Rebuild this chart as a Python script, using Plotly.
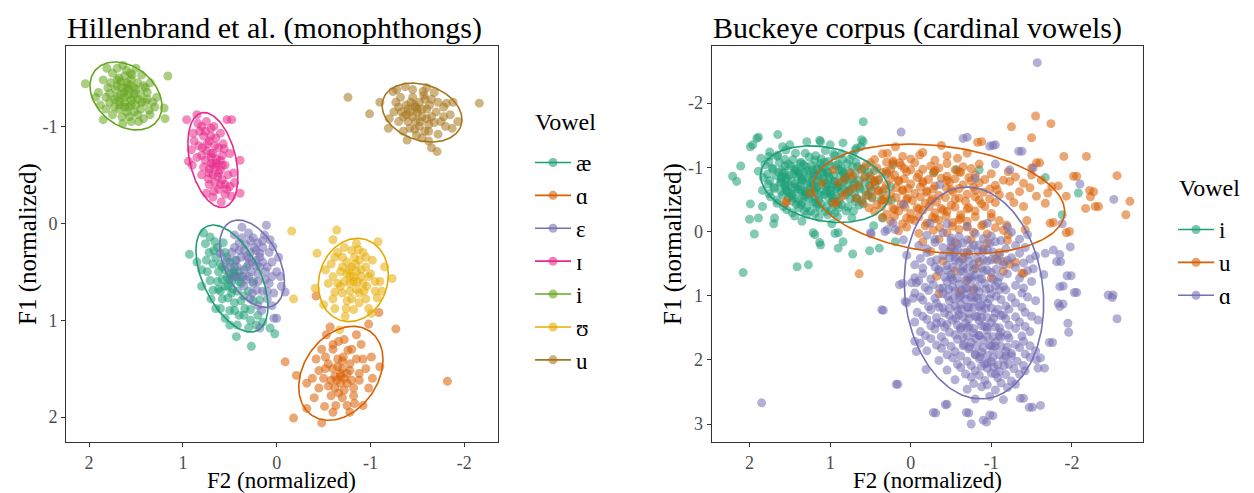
import numpy as np
import plotly.graph_objects as go

# ------------------------------------------------------------------
# Hillenbrand et al. monophthongs: (F2 normalized, F1 normalized)
# ------------------------------------------------------------------
hil_vowels = ["æ", "ɑ", "ɛ", "ɪ", "i", "ʊ", "u"]
hil_colors = ["#1B9E77", "#D95F02", "#7570B3", "#E7298A", "#66A61E", "#E6AB02", "#A6761D"]

hil_ae = [(0.93,0.32),(0.78,0.10),(0.76,0.21),(0.80,0.48),(0.68,0.69),(0.60,0.88),(0.43,1.17),(0.27,1.27),
          (0.30,1.08),(0.07,1.08),(0.02,1.14),(0.55,0.98),(0.71,0.59),(0.46,0.52),(0.43,0.55),(0.18,0.79),
          (0.34,0.88),(0.52,0.77),(0.71,0.14),(0.66,0.19),(0.28,0.89),(0.72,0.30),(0.65,0.35),(0.60,0.42),
          (0.55,0.48),(0.50,0.40),(0.45,0.45),(0.40,0.50),(0.48,0.60),(0.52,0.65),(0.58,0.58),(0.62,0.50),
          (0.68,0.42),(0.42,0.70),(0.38,0.62),(0.35,0.75),(0.45,0.82),(0.40,0.95),(0.30,0.70),(0.25,0.60),
          (0.55,0.30),(0.63,0.25),(0.75,0.38),(0.85,0.40),(0.50,0.90),(0.58,0.78),(0.47,0.68),(0.36,0.55),
          (0.32,0.45),(0.70,0.78),(0.62,0.68),(0.20,0.95),(0.15,1.02),(0.42,1.05),(0.50,0.52),(0.44,0.38),
          (0.53,0.56),(0.57,0.20),(0.80,0.65),(0.25,0.80),
          (0.50,0.58),(0.46,0.50),(0.55,0.65),(0.48,0.72),(0.58,0.45),(0.63,0.60),(0.40,0.60),(0.45,0.90),
          (0.35,0.95),(0.28,1.00),(0.53,0.35),(0.67,0.28),(0.74,0.50),(0.38,0.80),(0.60,0.70),(0.65,0.88),
          (0.22,1.05),(0.50,1.05)]
hil_a = [(-0.09,1.43),(-0.21,1.57),(-0.18,2.01),(-0.48,2.06),(-0.42,0.75),(-1.27,1.09),(-1.09,0.92),(-0.98,1.04),
         (-1.01,1.38),(-1.10,1.48),(-0.57,1.07),(-0.53,1.15),(-0.32,1.65),(-0.32,1.91),(-0.51,1.89),(-0.92,1.88),
         (-0.83,1.86),(-0.71,1.38),(-0.76,1.31),(-0.64,1.62),(-0.80,1.62),(-1.82,1.63),(-0.60,1.30),(-0.65,1.40),
         (-0.70,1.50),(-0.75,1.55),(-0.68,1.58),(-0.60,1.50),(-0.55,1.45),(-0.62,1.70),(-0.72,1.72),(-0.78,1.45),
         (-0.85,1.40),(-0.88,1.55),(-0.82,1.70),(-0.70,1.80),(-0.58,1.78),(-0.50,1.60),(-0.45,1.52),(-0.42,1.40),
         (-0.48,1.30),(-0.66,1.22),(-0.72,1.20),(-0.90,1.25),(-0.95,1.50),(-0.98,1.70),(-0.60,1.95),(-0.40,1.80),
         (-0.38,1.60),(-0.85,1.15),(-0.63,1.88),(-0.55,1.68),(-0.78,1.95),(-0.52,1.38),(-0.68,1.65),
         (-0.68,1.55),(-0.72,1.60),(-0.65,1.48),(-0.75,1.65),(-0.62,1.58),(-0.78,1.52),(-0.70,1.42),(-0.58,1.62),
         (-0.88,1.62),(-0.66,1.75),(-0.52,1.50),(-0.82,1.78),(-0.92,1.40),(-0.45,1.70),(-0.75,1.88),(-1.02,1.60),
         (-0.60,1.25),(-0.80,1.30)]
hil_eh = [(0.11,0.02),(0.37,0.04),(-0.09,0.71),(0.00,0.98),(0.03,0.98),(0.18,1.08),(0.60,0.31),(0.53,0.38),
          (0.07,0.17),(0.04,0.24),(-0.04,0.55),(0.39,0.55),(0.21,0.69),(0.32,0.34),(0.43,0.38),(0.18,0.31),
          (0.30,0.10),(0.25,0.15),(0.20,0.20),(0.15,0.25),(0.40,0.20),(0.45,0.25),(0.35,0.28),(0.28,0.30),
          (0.22,0.38),(0.15,0.40),(0.10,0.45),(0.05,0.40),(0.30,0.42),(0.35,0.48),(0.27,0.50),(0.20,0.52),
          (0.12,0.58),(0.08,0.62),(0.25,0.62),(0.32,0.58),(0.15,0.70),(0.10,0.78),(0.05,0.85),(0.00,0.50),
          (0.38,0.35),(0.48,0.30),(0.42,0.45),(0.18,0.45),(0.24,0.25),(0.13,0.12),(-0.02,0.35),(0.35,0.65),
          (0.45,0.55),(0.28,0.78),(0.20,0.85),(0.08,0.30),(0.50,0.45),(0.16,0.90),(-0.05,0.65),
          (0.26,0.40),(0.22,0.44),(0.30,0.36),(0.18,0.35),(0.33,0.22),(0.28,0.18),(0.40,0.28),(0.12,0.50),
          (0.20,0.60),(0.26,0.72),(0.10,0.70),(0.03,0.72),(0.37,0.15),(0.45,0.12),(0.15,0.18),(0.05,0.55),
          (0.22,0.28),(0.30,0.55)]
hil_ih = [(0.96,-1.07),(0.85,-1.12),(0.53,-1.07),(0.48,-1.07),(0.94,-0.64),(0.39,-0.65),(0.39,-0.31),(0.59,-0.22),
          (0.75,-0.31),(0.50,-0.38),(0.68,-0.27),(0.91,-0.76),(0.89,-0.93),(0.60,-0.93),(0.46,-0.52),(0.55,-0.40),
          (0.80,-1.00),(0.75,-1.05),(0.70,-0.98),(0.78,-0.90),(0.72,-0.85),(0.65,-0.88),(0.83,-0.80),(0.75,-0.75),
          (0.68,-0.72),(0.62,-0.78),(0.58,-0.70),(0.70,-0.62),(0.65,-0.58),(0.60,-0.55),(0.55,-0.60),(0.72,-0.52),
          (0.78,-0.58),(0.85,-0.68),(0.63,-0.48),(0.58,-0.45),(0.52,-0.50),(0.66,-0.42),(0.72,-0.40),(0.62,-0.35),
          (0.55,-0.30),(0.48,-0.28),(0.45,-0.42),(0.70,-0.68),(0.82,-0.95),(0.88,-0.85),(0.76,-0.65),(0.60,-0.65),
          (0.50,-0.72),(0.57,-0.82),(0.67,-1.00),(0.90,-0.60),(0.80,-0.50),(0.68,-0.50),(0.64,-0.66),
          (0.68,-0.60),(0.72,-0.56),(0.64,-0.62),(0.70,-0.72),(0.66,-0.80),(0.74,-0.82),(0.76,-0.95),(0.62,-0.52),
          (0.58,-0.60),(0.80,-0.70),(0.73,-0.46),(0.60,-0.40),(0.53,-0.35),(0.67,-0.33),(0.84,-1.03),(0.70,-0.90),
          (0.79,-0.78),(0.56,-0.77)]
hil_i = [(2.04,-1.44),(1.16,-1.52),(1.19,-1.08),(1.20,-1.19),(1.85,-1.07),(1.64,-1.03),(1.81,-1.60),(1.64,-1.63),
         (1.44,-1.53),(1.56,-1.55),(1.90,-1.35),(1.88,-1.22),(1.93,-1.30),(1.75,-1.55),(1.70,-1.48),(1.47,-1.05),
         (1.35,-1.12),(1.30,-1.20),(1.28,-1.30),(1.40,-1.40),(1.35,-1.45),(1.50,-1.38),(1.60,-1.45),(1.65,-1.40),
         (1.70,-1.30),(1.62,-1.25),(1.55,-1.22),(1.48,-1.28),(1.58,-1.33),(1.68,-1.18),(1.75,-1.12),(1.78,-1.25),
         (1.80,-1.40),(1.52,-1.15),(1.45,-1.18),(1.40,-1.25),(1.38,-1.35),(1.55,-1.48),(1.60,-1.58),(1.72,-1.38),
         (1.85,-1.48),(1.82,-1.30),(1.67,-1.22),(1.57,-1.10),(1.42,-1.08),(1.32,-1.25),(1.50,-1.60),(1.62,-1.52),
         (1.48,-1.45),(1.73,-1.20),(1.63,-1.35),(1.53,-1.30),(1.58,-1.20),(1.65,-1.10),(1.70,-1.60),(1.77,-1.45),
         (1.45,-1.33),(1.36,-1.17),(1.60,-1.40),(1.52,-1.40),(1.68,-1.50),(1.55,-1.05),
         (1.62,-1.30),(1.58,-1.38),(1.66,-1.33),(1.55,-1.27),(1.70,-1.42),(1.50,-1.22),(1.62,-1.20),(1.73,-1.28),
         (1.44,-1.25),(1.57,-1.43),(1.66,-1.46),(1.52,-1.34),(1.78,-1.34),(1.48,-1.12),(1.42,-1.42),(1.82,-1.18),
         (1.60,-1.15),(1.68,-1.26),(1.54,-1.53),(1.38,-1.28)]
hil_uh = [(-0.16,0.08),(-0.18,0.78),(-0.43,0.31),(-0.41,0.67),(-0.64,0.07),(-0.60,0.17),(-1.08,0.19),(-1.23,0.57),
          (-1.01,0.93),(-0.67,1.10),(-0.73,0.96),(-0.82,0.89),(-0.85,0.21),(-0.80,0.28),(-0.96,0.65),(-0.62,0.71),
          (-0.50,0.84),(-1.07,0.77),(-0.70,0.35),(-0.75,0.40),(-0.80,0.45),(-0.85,0.50),(-0.90,0.55),(-0.78,0.55),
          (-0.72,0.60),(-0.68,0.50),(-0.88,0.38),(-0.95,0.45),(-1.00,0.52),(-0.92,0.62),(-0.85,0.68),(-0.78,0.70),
          (-0.70,0.72),(-0.65,0.62),(-0.60,0.55),(-0.58,0.42),(-0.65,0.30),(-0.92,0.30),(-1.02,0.38),(-1.10,0.60),
          (-1.05,0.70),(-0.95,0.78),(-0.88,0.82),(-0.75,0.80),(-0.55,0.62),(-0.52,0.48),(-0.82,0.60),(-0.88,0.72),
          (-0.98,0.88),(-0.62,0.88),(-0.72,0.25),(-1.15,0.45),(-0.83,0.35),(-0.77,0.48),
          (-0.82,0.55),(-0.86,0.60),(-0.78,0.62),(-0.90,0.48),(-0.75,0.52),(-0.84,0.42),(-0.93,0.70),(-0.70,0.45),
          (-0.95,0.35),(-0.68,0.65),(-0.80,0.78),(-1.05,0.60),(-0.62,0.35),(-0.74,0.88),(-0.98,0.55),(-0.87,0.27),
          (-0.60,0.78),(-1.12,0.70)]
hil_u = [(-0.76,-1.30),(-0.99,-1.13),(-2.16,-1.24),(-1.10,-1.25),(-1.71,-0.74),(-1.65,-0.78),(-1.87,-0.98),
         (-1.19,-0.98),(-1.39,-0.86),(-1.24,-1.36),(-1.37,-1.41),(-1.56,-1.36),(-1.81,-1.24),(-1.49,-0.91),
         (-1.30,-1.20),(-1.35,-1.10),(-1.42,-1.15),(-1.48,-1.05),(-1.55,-1.10),(-1.60,-1.18),(-1.52,-1.25),
         (-1.45,-1.30),(-1.65,-1.28),(-1.70,-1.15),(-1.75,-1.05),(-1.62,-1.02),(-1.58,-0.95),(-1.42,-0.98),
         (-1.30,-1.05),(-1.25,-1.15),(-1.38,-1.22),(-1.68,-1.35),(-1.78,-1.20),(-1.85,-1.12),(-1.72,-0.92),
         (-1.55,-0.88),(-1.62,-0.85),(-1.45,-1.38),(-1.50,-1.18),(-1.40,-1.05),(-1.58,-1.28),(-1.32,-1.30),
         (-1.20,-1.08),(-1.88,-1.25),(-1.80,-1.00),(-1.65,-1.10),(-1.52,-1.00),(-1.35,-0.95),(-1.47,-1.22),
         (-1.60,-1.40),(-1.28,-1.38),(-1.93,-1.05),
         (-1.50,-1.14),(-1.45,-1.10),(-1.55,-1.18),(-1.40,-1.18),(-1.60,-1.08),(-1.48,-1.20),(-1.38,-1.12),
         (-1.53,-1.05),(-1.63,-1.22),(-1.43,-1.25),(-1.57,-1.32),(-1.68,-1.04),(-1.72,-1.25),(-1.33,-1.15),
         (-1.47,-0.97),(-1.78,-1.10),(-1.27,-1.25),(-1.62,-0.95)]
hil_points = [hil_ae, hil_a, hil_eh, hil_ih, hil_i, hil_uh, hil_u]

# 95% ellipses: centre F2, centre F1, half-extent F2, half-extent F1, correlation
hil_ell_cx = [0.477, -0.684, 0.263, 0.680, 1.607, -0.817, -1.549]
hil_ell_cy = [0.570, 1.548, 0.417, -0.653, -1.314, 0.585, -1.143]
hil_ell_hx = [0.384, 0.449, 0.345, 0.267, 0.384, 0.373, 0.426]
hil_ell_hy = [0.552, 0.485, 0.451, 0.490, 0.351, 0.430, 0.304]
hil_ell_r = [-0.52, 0.29, -0.42, -0.35, -0.30, 0.12, -0.24]

# ------------------------------------------------------------------
# Buckeye corpus cardinal vowels
# ------------------------------------------------------------------
buck_vowels = ["i", "u", "ɑ"]
buck_colors = ["#1B9E77", "#D95F02", "#7570B3"]

buck_i = [
    (1.75,-1.24),(1.55,-1.27),(1.31,-1.22),(1.06,-1.26),(0.86,-1.21),
    (1.86,-1.14),(1.66,-1.17),(1.46,-1.12),(1.26,-1.16),(1.11,-1.13),(0.94,-1.18),(0.76,-1.12),
    (1.81,-1.04),(1.63,-1.07),(1.49,-1.02),(1.37,-1.06),(1.23,-1.03),(1.07,-1.08),(0.93,-1.03),(0.79,-1.06),(0.66,-1.01),
    (1.89,-0.94),(1.71,-0.97),(1.57,-0.92),(1.44,-0.96),(1.33,-0.93),(1.17,-0.97),(1.03,-0.92),(0.89,-0.96),(0.77,-0.93),(0.61,-0.97),
    (1.83,-0.84),(1.67,-0.87),(1.54,-0.82),(1.41,-0.86),(1.27,-0.83),(1.16,-0.88),(1.01,-0.83),(0.87,-0.87),(0.73,-0.82),(0.56,-0.86),
    (1.77,-0.74),(1.61,-0.77),(1.51,-0.72),(1.36,-0.76),(1.21,-0.73),(1.11,-0.78),(0.97,-0.73),(0.84,-0.77),(0.71,-0.72),(0.57,-0.76),(0.44,-0.73),
    (1.84,-0.64),(1.69,-0.67),(1.53,-0.62),(1.41,-0.66),(1.31,-0.63),(1.17,-0.68),(1.04,-0.63),(0.93,-0.67),(0.77,-0.62),(0.63,-0.66),(0.49,-0.63),
    (1.74,-0.54),(1.59,-0.57),(1.44,-0.52),(1.33,-0.56),(1.19,-0.53),(1.07,-0.58),(0.96,-0.53),(0.81,-0.57),(0.67,-0.52),(0.53,-0.56),
    (1.66,-0.44),(1.47,-0.47),(1.36,-0.42),(1.21,-0.46),(1.11,-0.43),(0.97,-0.47),(0.86,-0.42),(0.69,-0.46),(0.59,-0.43),
    (1.54,-0.34),(1.39,-0.37),(1.24,-0.32),(1.13,-0.36),(0.99,-0.33),(0.89,-0.37),(0.71,-0.32),
    (1.44,-0.24),(1.29,-0.27),(1.14,-0.22),(1.03,-0.26),(0.91,-0.23),
    (1.15,-0.80),(1.05,-0.70),(1.25,-0.68),(0.95,-0.78),(1.20,-0.90),(1.35,-0.80),(1.00,-0.60),(1.30,-0.58),
    (0.90,-0.70),(1.40,-0.70),(1.10,-1.00),(1.45,-0.90),(0.80,-0.85),(1.55,-0.70),(1.60,-0.85),(1.50,-0.60),
    (0.75,-0.65),(1.20,-0.62),(1.08,-0.90),(1.28,-0.95),
    (1.65,-1.19),(1.43,-1.22),(1.18,-1.18),(0.96,-1.21),(0.72,-1.19),
    (1.76,-1.09),(1.56,-1.12),(1.36,-1.08),(1.19,-1.11),(1.02,-1.09),(0.85,-1.12),(0.68,-1.08),
    (1.72,-0.99),(1.56,-1.02),(1.43,-0.98),(1.30,-1.01),(1.15,-0.99),(1.00,-1.02),(0.86,-0.98),(0.72,-1.01),(0.58,-0.99),
    (1.78,-0.89),(1.64,-0.92),(1.51,-0.88),(1.38,-0.91),(1.25,-0.89),(1.10,-0.92),(0.96,-0.88),(0.83,-0.91),(0.69,-0.89),(0.52,-0.92),
    (1.75,-0.79),(1.61,-0.82),(1.48,-0.78),(1.34,-0.81),(1.22,-0.79),(1.08,-0.82),(0.94,-0.78),(0.80,-0.81),(0.64,-0.79),(0.50,-0.82),
    (1.70,-0.69),(1.56,-0.72),(1.44,-0.68),(1.29,-0.71),(1.16,-0.69),(1.03,-0.72),(0.91,-0.68),(0.78,-0.71),(0.64,-0.69),(0.51,-0.72),
    (1.76,-0.59),(1.61,-0.62),(1.47,-0.58),(1.36,-0.61),(1.24,-0.59),(1.11,-0.62),(0.99,-0.58),(0.86,-0.61),(0.70,-0.59),(0.56,-0.62),
    (1.66,-0.49),(1.52,-0.52),(1.39,-0.48),(1.26,-0.51),(1.14,-0.49),(1.02,-0.52),(0.89,-0.48),(0.75,-0.51),(0.61,-0.49),
    (1.58,-0.39),(1.42,-0.42),(1.29,-0.38),(1.16,-0.41),(1.04,-0.39),(0.92,-0.42),(0.78,-0.38),(0.64,-0.41),
    (1.47,-0.29),(1.32,-0.32),(1.19,-0.28),(1.06,-0.31),(0.94,-0.29),(0.80,-0.32),
    (1.52,-1.05),(1.33,-1.04),(1.12,-1.06),(0.90,-1.05),
    (1.60,-0.95),(1.40,-0.94),(1.22,-0.96),(1.05,-0.95),(0.85,-0.94),
    (1.55,-0.85),(1.36,-0.84),(1.19,-0.86),(1.01,-0.85),(0.82,-0.84),
    (1.62,-0.75),(1.44,-0.74),(1.25,-0.76),(1.06,-0.75),(0.88,-0.74),(0.70,-0.76),
    (1.55,-0.65),(1.36,-0.64),(1.20,-0.66),(1.00,-0.65),(0.82,-0.64),
    (1.48,-0.55),(1.30,-0.54),(1.12,-0.56),(0.92,-0.55),
    (1.35,-0.45),(1.18,-0.44),(0.98,-0.46),
    (2.21,-0.86),(2.16,-0.78),(2.11,-1.02),(1.96,-1.35),(1.89,-1.47),(1.65,-1.51),(0.59,-1.71),(2.08,0.64),
    (1.94,0.04),(2.00,-0.19),(1.89,-0.21),(1.41,0.55),(1.27,0.52),(1.19,0.05),(1.12,0.21),(0.90,0.26),
    (0.72,0.35),(0.51,0.30),(0.39,0.26),(0.19,0.16),(0.94,0.03),(1.69,-0.21),(1.84,-0.39),(1.99,-0.43),
    (-2.08,-0.60),(-1.88,-0.26),(-0.85,-0.96),(-0.29,-0.92),(0.59,-1.40),(0.62,-1.32),(0.69,-1.27),
    (0.84,-1.38),(1.12,-1.40),(1.29,-1.40),(1.59,-1.32),(1.76,-1.17),(0.22,-1.04),(0.37,-0.49),(0.35,-0.21),
    (1.99,-1.32),(1.91,-1.45),(1.50,-1.35),(1.13,-1.42),(1.00,-1.35),(0.61,-1.43),(0.67,-1.30),
    (1.70,-0.12),(1.35,-0.16),(1.21,0.02),(1.13,0.17),(0.90,0.02),(0.84,0.16),(0.98,-0.12),(0.73,-0.21),
    (0.46,-0.09),(0.24,-0.49),(-1.67,-0.84),(-0.57,-0.96),(0.45,-0.95),(0.40,-0.80),(0.35,-0.62),
    (0.30,-0.90),(0.48,-0.52),(0.25,-0.70)]

buck_u = [
    (0.35,-1.21),(0.10,-1.17),(-0.15,-1.23),(-0.45,-1.18),(-0.70,-1.22),
    (0.55,-1.04),(0.30,-1.08),(0.12,-1.03),(-0.05,-1.07),(-0.25,-1.02),(-0.45,-1.06),(-0.65,-1.01),(-0.85,-1.05),
    (0.75,-0.91),(0.50,-0.87),(0.35,-0.92),(0.20,-0.88),(0.05,-0.93),(-0.10,-0.89),(-0.28,-0.91),(-0.45,-0.86),(-0.62,-0.92),(-0.80,-0.88),(-1.00,-0.90),
    (0.90,-0.76),(0.65,-0.72),(0.45,-0.77),(0.30,-0.73),(0.15,-0.78),(0.00,-0.74),(-0.15,-0.76),(-0.30,-0.71),(-0.48,-0.77),(-0.65,-0.73),(-0.85,-0.76),(-1.05,-0.72),
    (0.80,-0.61),(0.55,-0.57),(0.40,-0.62),(0.25,-0.58),(0.10,-0.63),(-0.05,-0.59),(-0.20,-0.61),(-0.35,-0.56),(-0.52,-0.62),(-0.70,-0.58),(-0.90,-0.61),(-1.10,-0.57),
    (0.60,-0.46),(0.42,-0.42),(0.28,-0.47),(0.12,-0.43),(-0.02,-0.48),(-0.18,-0.44),(-0.32,-0.46),(-0.50,-0.41),(-0.68,-0.47),(-0.88,-0.43),(-1.05,-0.45),
    (0.45,-0.31),(0.30,-0.27),(0.15,-0.32),(0.00,-0.28),(-0.15,-0.33),(-0.30,-0.29),(-0.45,-0.31),(-0.62,-0.26),(-0.80,-0.32),(-1.00,-0.28),
    (0.25,-0.16),(0.10,-0.12),(-0.05,-0.17),(-0.20,-0.13),(-0.35,-0.18),(-0.52,-0.14),(-0.70,-0.16),(-0.90,-0.11),(-1.10,-0.17),
    (0.15,-0.01),(-0.10,0.03),(-0.28,-0.02),(-0.45,0.02),(-0.60,-0.03),(-0.78,0.01),(-0.95,0.04),(-1.15,-0.02),
    (-0.15,0.16),(-0.35,0.12),(-0.55,0.17),(-0.75,0.13),(-0.95,0.18),(-1.20,0.14),
    (-0.25,0.31),(-0.50,0.27),(-0.70,0.32),(-0.90,0.28),(-1.10,0.33),
    (-0.40,0.46),(-0.65,0.42),(-0.85,0.47),(-1.05,0.43),(-1.30,0.48),
    (-0.55,0.61),(-0.80,0.57),(-1.15,0.62),(-0.70,0.76),(-1.00,0.72),
    (0.45,-1.12),(0.22,-1.10),(0.00,-1.13),(-0.30,-1.11),(-0.58,-1.14),
    (0.62,-0.97),(0.42,-0.99),(0.25,-0.96),(0.08,-0.98),(-0.15,-0.97),(-0.35,-0.99),(-0.55,-0.96),(-0.75,-0.98),
    (0.82,-0.82),(0.58,-0.84),(0.40,-0.81),(0.25,-0.83),(0.08,-0.82),(-0.08,-0.84),(-0.22,-0.81),(-0.38,-0.83),(-0.55,-0.82),(-0.72,-0.84),(-0.92,-0.81),
    (0.72,-0.67),(0.50,-0.69),(0.33,-0.66),(0.18,-0.68),(0.03,-0.67),(-0.12,-0.69),(-0.28,-0.66),(-0.44,-0.68),(-0.60,-0.67),(-0.78,-0.69),(-0.98,-0.66),
    (0.68,-0.52),(0.48,-0.54),(0.33,-0.51),(0.18,-0.53),(0.04,-0.52),(-0.12,-0.54),(-0.27,-0.51),(-0.43,-0.53),(-0.60,-0.52),(-0.80,-0.54),(-0.98,-0.51),
    (0.52,-0.37),(0.36,-0.39),(0.22,-0.36),(0.07,-0.38),(-0.08,-0.37),(-0.23,-0.39),(-0.38,-0.36),(-0.55,-0.38),(-0.72,-0.37),(-0.92,-0.39),
    (0.35,-0.22),(0.20,-0.24),(0.05,-0.21),(-0.10,-0.23),(-0.27,-0.22),(-0.44,-0.24),(-0.62,-0.21),(-0.80,-0.23),(-1.00,-0.22),
    (0.05,-0.07),(-0.18,-0.09),(-0.36,-0.06),(-0.52,-0.08),(-0.70,-0.07),(-0.88,-0.09),(-1.05,-0.06),
    (0.30,-0.94),(0.00,-0.96),(-0.30,-0.95),(-0.60,-0.93),
    (0.45,-0.79),(0.15,-0.80),(-0.15,-0.78),(-0.45,-0.80),(-0.75,-0.79),
    (0.40,-0.64),(0.10,-0.65),(-0.20,-0.63),(-0.50,-0.65),(-0.80,-0.64),
    (0.35,-0.49),(0.05,-0.50),(-0.25,-0.48),(-0.55,-0.50),(-0.85,-0.49),
    (0.20,-0.34),(-0.10,-0.35),(-0.40,-0.33),(-0.70,-0.35),
    (0.00,-0.19),(-0.30,-0.20),(-0.60,-0.18),
    (0.96,-0.44),(1.56,-0.44),(0.96,-0.96),(0.72,-0.86),(0.50,-1.07),(1.10,-0.75),(1.25,-0.60),(0.85,-0.55),
    (-0.32,0.70),(-0.78,0.91),(-1.38,0.65),(-0.60,0.95),(-0.35,0.97),(0.64,0.66),
    (-1.55,-1.80),(-1.74,-1.68),(-1.25,-1.63),(-1.50,-1.46),(-1.90,-1.17),(-2.18,-1.17),(-2.56,-0.87),(-2.06,-0.86),
    (-2.27,-0.62),(-2.33,-0.39),(-2.17,-0.36),(-2.72,-0.47),(-2.67,-0.26),(-1.97,0.00),(-1.77,-0.14),(-1.40,0.65),
    (-1.23,0.51),(0.19,-1.32),(-0.38,-1.34),(-0.11,-1.19),(-0.83,-1.39),(-0.88,-1.40),(-1.50,-0.99),(-1.60,-1.07),
    (1.54,-0.47),(0.92,-0.45),(0.14,-1.07),(0.22,-1.07),(0.29,-1.22),
    (-2.22,-0.64),(-2.23,-0.54),(-2.29,-0.39),(-2.02,-0.86),(-1.93,-0.55),(-1.93,0.02),(-1.73,-0.13),(-1.83,-0.71),
    (-1.56,-1.07),(-1.21,-0.93),(-1.23,-0.78),(-1.40,-0.75),(-1.48,-0.68),(-1.56,-0.55),(-1.67,-0.44),(-1.75,-0.70),
    (-1.40,-0.39),(-1.23,-0.55),(-1.07,-0.65),(-1.44,-0.17),(-1.42,-0.03),(-1.19,-0.10),(-1.21,0.05),(-1.15,0.47),
    (-1.30,-0.85),(-1.35,-0.62),(-1.62,-0.80),(-1.70,-0.60),(-1.50,-0.88),(-1.28,-0.45),(-1.15,-0.80)]

buck_a = [
    (-0.45,-0.12),(-0.70,-0.08),(-0.95,-0.13),(-1.20,-0.07),
    (-0.20,0.06),(-0.40,0.02),(-0.60,0.08),(-0.80,0.03),(-1.00,0.07),(-1.25,0.01),(-1.45,0.05),
    (-0.10,0.22),(-0.30,0.17),(-0.50,0.23),(-0.65,0.18),(-0.85,0.21),(-1.05,0.16),(-1.30,0.22),
    (0.05,0.37),(-0.20,0.33),(-0.40,0.38),(-0.55,0.32),(-0.72,0.36),(-0.90,0.31),(-1.10,0.37),(-1.35,0.34),(-1.55,0.38),
    (-0.05,0.52),(-0.25,0.47),(-0.45,0.53),(-0.60,0.48),(-0.78,0.51),(-0.95,0.46),(-1.15,0.52),(-1.40,0.49),
    (-0.15,0.66),(-0.35,0.62),(-0.50,0.67),(-0.65,0.63),(-0.80,0.68),(-1.00,0.64),(-1.20,0.66),(-1.45,0.61),(-1.65,0.67),
    (0.10,0.81),(-0.10,0.77),(-0.28,0.83),(-0.45,0.78),(-0.60,0.82),(-0.75,0.76),(-0.92,0.81),(-1.08,0.79),(-1.30,0.84),(-1.50,0.78),
    (-0.05,0.96),(-0.22,0.92),(-0.40,0.97),(-0.55,0.93),(-0.70,0.98),(-0.85,0.94),(-1.00,0.97),(-1.18,0.91),(-1.38,0.96),
    (0.05,1.11),(-0.15,1.07),(-0.32,1.12),(-0.48,1.08),(-0.62,1.13),(-0.78,1.09),(-0.95,1.12),(-1.12,1.06),(-1.30,1.11),(-1.55,1.08),
    (-0.08,1.26),(-0.25,1.22),(-0.42,1.27),(-0.58,1.23),(-0.72,1.28),(-0.88,1.24),(-1.05,1.27),(-1.22,1.21),(-1.42,1.26),
    (-0.05,1.41),(-0.20,1.37),(-0.38,1.42),(-0.52,1.38),(-0.68,1.43),(-0.85,1.39),(-1.00,1.42),(-1.18,1.36),(-1.35,1.41),(-1.58,1.38),
    (-0.12,1.56),(-0.30,1.52),(-0.48,1.57),(-0.62,1.53),(-0.78,1.58),(-0.95,1.54),(-1.12,1.57),(-1.30,1.51),(-1.48,1.56),
    (-0.05,1.71),(-0.25,1.67),(-0.42,1.72),(-0.58,1.68),(-0.75,1.73),(-0.90,1.69),(-1.05,1.72),(-1.22,1.66),(-1.40,1.71),
    (-0.20,1.86),(-0.38,1.82),(-0.55,1.87),(-0.72,1.83),(-0.88,1.88),(-1.02,1.84),(-1.18,1.87),(-1.35,1.81),(-1.55,1.86),
    (-0.35,2.01),(-0.52,1.97),(-0.70,2.02),(-0.85,1.98),(-1.00,2.03),(-1.15,1.99),(-1.32,2.02),(-1.48,1.96),
    (-0.45,2.16),(-0.62,2.12),(-0.80,2.17),(-0.95,2.13),(-1.10,2.18),(-1.28,2.14),(-1.42,2.17),
    (-0.55,2.31),(-0.75,2.27),(-0.92,2.32),(-1.08,2.28),(-1.25,2.33),
    (-0.70,2.46),(-0.88,2.42),(-1.05,2.47),(-1.20,2.43),
    (-0.80,2.61),(-0.98,2.57),(-1.15,2.62),
    (-0.55,0.40),(-0.65,0.55),(-0.75,0.70),(-0.70,0.88),(-0.62,1.00),(-0.80,1.02),(-0.72,1.18),(-0.88,1.15),
    (-0.60,1.30),(-0.82,1.33),(-0.92,1.48),(-0.70,1.50),(-0.85,1.62),(-1.00,1.78),(-0.80,1.92),(-0.95,2.05),
    (-1.05,2.22),(-0.50,0.72),(-0.40,0.88),(-0.90,0.62),(-1.05,0.85),(-0.35,1.18),(-1.15,1.30),(-0.45,1.45),
    (-1.10,1.62),(-0.65,1.78),(-1.25,1.90),(-0.30,0.55),(-1.20,0.45),(-0.50,0.15),
    (-0.30,0.12),(-0.50,0.10),(-0.70,0.13),(-0.90,0.11),(-1.12,0.14),(-1.35,0.12),
    (-0.20,0.27),(-0.40,0.25),(-0.58,0.28),(-0.75,0.26),(-0.95,0.29),(-1.18,0.27),(-1.42,0.25),
    (-0.12,0.42),(-0.32,0.44),(-0.48,0.41),(-0.64,0.43),(-0.82,0.42),(-1.00,0.44),(-1.25,0.41),(-1.48,0.43),
    (-0.15,0.57),(-0.35,0.59),(-0.52,0.56),(-0.70,0.58),(-0.88,0.57),(-1.06,0.59),(-1.30,0.56),(-1.52,0.58),
    (-0.05,0.72),(-0.25,0.74),(-0.42,0.71),(-0.58,0.73),(-0.72,0.72),(-0.88,0.74),(-1.10,0.71),(-1.35,0.73),
    (-0.18,0.87),(-0.36,0.89),(-0.52,0.86),(-0.68,0.88),(-0.82,0.87),(-0.98,0.89),(-1.15,0.86),(-1.40,0.88),
    (-0.12,1.02),(-0.30,1.04),(-0.46,1.01),(-0.60,1.03),(-0.75,1.02),(-0.90,1.04),(-1.06,1.01),(-1.25,1.03),(-1.45,1.02),
    (-0.22,1.17),(-0.40,1.19),(-0.55,1.16),(-0.70,1.18),(-0.85,1.17),(-1.00,1.19),(-1.18,1.16),(-1.38,1.18),
    (-0.15,1.32),(-0.32,1.34),(-0.48,1.31),(-0.65,1.33),(-0.80,1.32),(-0.95,1.34),(-1.12,1.31),(-1.30,1.33),(-1.50,1.32),
    (-0.25,1.47),(-0.42,1.49),(-0.58,1.46),(-0.72,1.48),(-0.88,1.47),(-1.05,1.49),(-1.22,1.46),(-1.42,1.48),
    (-0.18,1.62),(-0.38,1.64),(-0.55,1.61),(-0.70,1.63),(-0.85,1.62),(-1.02,1.64),(-1.20,1.61),(-1.38,1.63),
    (-0.32,1.77),(-0.50,1.79),(-0.66,1.76),(-0.82,1.78),(-0.98,1.77),(-1.12,1.79),(-1.30,1.76),(-1.48,1.78),
    (-0.45,1.92),(-0.62,1.94),(-0.80,1.91),(-0.95,1.93),(-1.10,1.92),(-1.25,1.94),(-1.42,1.91),
    (-0.58,2.07),(-0.75,2.09),(-0.92,2.06),(-1.08,2.08),(-1.22,2.07),(-1.40,2.09),
    (-0.68,2.22),(-0.85,2.24),(-1.00,2.21),(-1.18,2.23),(-1.35,2.22),
    (-0.78,2.37),(-0.95,2.39),(-1.12,2.36),(-1.30,2.38),
    (-0.58,0.20),(-0.78,0.21),(-0.98,0.19),
    (-0.48,0.32),(-0.66,0.33),(-0.84,0.31),(-1.02,0.32),
    (-0.55,0.45),(-0.72,0.46),(-0.90,0.44),(-1.08,0.45),
    (-0.45,0.60),(-0.62,0.61),(-0.78,0.59),(-0.95,0.60),
    (-0.52,0.75),(-0.68,0.76),(-0.85,0.74),(-1.02,0.75),
    (-0.47,0.90),(-0.63,0.91),(-0.78,0.89),(-0.93,0.90),(-1.10,0.91),
    (-0.53,1.05),(-0.68,1.06),(-0.83,1.04),(-0.98,1.05),
    (-0.48,1.20),(-0.63,1.21),(-0.78,1.19),(-0.93,1.20),(-1.08,1.21),
    (-0.56,1.35),(-0.72,1.36),(-0.88,1.34),(-1.03,1.35),
    (-0.62,1.50),(-0.78,1.51),(-0.95,1.49),(-1.10,1.50),
    (-0.65,1.65),(-0.80,1.66),(-0.95,1.64),(-1.12,1.65),
    (-0.73,1.80),(-0.90,1.81),(-1.05,1.79),(-1.20,1.80),
    (-0.86,1.95),(-1.02,1.96),(-1.18,1.94),
    (-0.88,2.10),(-1.03,2.11),(-1.16,2.09),
    (-1.57,-2.63),(0.12,-1.55),(-0.70,-1.47),(-1.02,-1.34),(-1.38,-1.25),(-1.05,-1.05),(-1.23,-0.96),
    (-2.10,-0.74),(-2.52,-0.50),(-1.88,-0.12),(-1.98,0.24),(-1.85,0.36),(-1.86,0.47),(-1.99,0.69),(-1.89,0.85),
    (-2.06,0.95),(-2.51,0.99),(-2.50,1.03),(-2.56,1.36),(-1.89,1.13),(-1.95,1.43),(-1.96,1.57),(-1.76,1.73),
    (-1.61,1.97),(-1.66,2.13),(-1.51,2.74),(-1.61,2.71),(-1.40,2.60),(-1.02,2.87),(-0.94,2.97),(-0.75,3.00),
    (-0.72,2.83),(-0.45,2.69),(-0.31,2.83),(0.16,2.38),(1.85,2.67),(0.34,1.23),(0.07,1.09),(0.14,0.83),
    (-0.07,0.80),(0.49,0.04),(0.29,-0.03),(0.19,-0.03),(0.09,0.13),
    (-0.65,-1.45),(-0.98,-1.33),(-0.80,-0.83),(-0.36,-0.73),(0.09,-0.42),(0.32,0.00),(0.50,0.02),(0.22,-0.13),
    (-0.24,-0.13),(-1.05,-1.35),(-1.34,-1.25),(-1.52,-0.99),(-1.77,0.29),(-1.67,0.34),(-1.81,0.47),(-1.94,0.69),
    (-1.85,0.86),(-2.03,0.95),(-2.45,0.99),(-1.83,1.12),(-1.58,2.13),(-1.56,2.00),(-1.72,1.73),(-1.85,1.17),
    (-0.28,2.82),(-0.43,2.70),(-0.69,2.82),(-0.90,2.94),(-0.98,2.86),(-1.36,2.60),(-1.47,2.74),
    (-0.01,0.80),(-0.03,1.04),(-0.07,1.87),(-0.12,1.74),(-0.19,2.15),(-0.32,1.43),(0.36,1.22),(0.18,2.38)]
buck_points = [buck_i, buck_u, buck_a]

buck_ell_cx = [1.063, -0.349, -0.785]
buck_ell_cy = [-0.737, -0.506, 0.958]
buck_ell_hx = [0.800, 1.561, 0.865]
buck_ell_hy = [0.597, 0.855, 1.650]
buck_ell_r = [-0.23, -0.23, -0.10]

# axis ticks
hil_xticks = [2, 1, 0, -1, -2]
hil_yticks = [-1, 0, 1, 2]
buck_xticks = [2, 1, 0, -1, -2]
buck_yticks = [-2, -1, 0, 1, 2, 3]

# ------------------------------------------------------------------
FONT = "Liberation Serif, Times New Roman, DejaVu Serif, serif"
OFF = 8                      # page body margin of the generated html
W, H = 1254 - OFF, 493 - OFF


def px(X):
    return (X - OFF) / W


def py(Y):
    return 1 - (Y - OFF) / H


def ellipse_path(cx, cy, hx, hy, r, n=181):
    t = np.linspace(0, 2 * np.pi, n)
    x = cx + hx * np.cos(t)
    y = cy + hy * (r * np.cos(t) + np.sqrt(1 - r * r) * np.sin(t))
    return x, y


fig = go.Figure()


def add_panel(points, vowels, colors, ecx, ecy, ehx, ehy, er, xa, ya, legend, msize, mop):
    for pts, v, c in zip(points, vowels, colors):
        arr = np.array(pts)
        fig.add_trace(go.Scatter(x=arr[:, 0], y=arr[:, 1], mode="markers", xaxis=xa, yaxis=ya,
                                 marker=dict(color=c, size=msize, opacity=mop, line=dict(width=0)),
                                 showlegend=False, hoverinfo="skip"))
    for k, (v, c) in enumerate(zip(vowels, colors)):
        ex, ey = ellipse_path(ecx[k], ecy[k], ehx[k], ehy[k], er[k])
        fig.add_trace(go.Scatter(x=ex, y=ey, mode="lines", xaxis=xa, yaxis=ya,
                                 line=dict(color=c, width=1.6), showlegend=False, hoverinfo="skip"))
    for v, c in zip(vowels, colors):
        fig.add_trace(go.Scatter(x=[None], y=[None], mode="lines+markers", xaxis=xa, yaxis=ya,
                                 name=v, legend=legend, legendgroup=legend + v,
                                 line=dict(color=c, width=1.6),
                                 marker=dict(color=c, size=9, opacity=0.6)))


add_panel(hil_points, hil_vowels, hil_colors, hil_ell_cx, hil_ell_cy, hil_ell_hx, hil_ell_hy, hil_ell_r,
          "x", "y", "legend", 9, 0.55)
add_panel(buck_points, buck_vowels, buck_colors, buck_ell_cx, buck_ell_cy, buck_ell_hx, buck_ell_hy, buck_ell_r,
          "x2", "y2", "legend2", 9, 0.55)

axis_common = dict(showgrid=False, zeroline=False, showline=True, mirror=True, linecolor="#333333",
                   linewidth=1, ticks="outside", ticklen=4, tickcolor="#333333", tickwidth=1,
                   tickfont=dict(family=FONT, size=18, color="#4D4D4D"))

legend_common = dict(xanchor="left", yanchor="top", font=dict(family=FONT, size=23),
                     tracegroupgap=0, itemwidth=36, bgcolor="rgba(0,0,0,0)")

fig.update_layout(
    width=W, height=H, margin=dict(l=0, r=0, t=0, b=0),
    paper_bgcolor="white", plot_bgcolor="white",
    font=dict(family=FONT, color="black"),
    xaxis=dict(domain=[px(66), px(497.7)], range=[2.246, -2.356], anchor="y",
               tickvals=hil_xticks, ticktext=[str(v) for v in hil_xticks], **axis_common),
    yaxis=dict(domain=[py(442), py(46)], range=[2.257, -1.83], anchor="x",
               tickvals=hil_yticks, ticktext=[str(v) for v in hil_yticks], **axis_common),
    xaxis2=dict(domain=[px(711.7), px(1143.3)], range=[2.47, -2.886], anchor="y2",
                tickvals=buck_xticks, ticktext=[str(v) for v in buck_xticks], **axis_common),
    yaxis2=dict(domain=[py(442), py(46)], range=[3.28, -2.89], anchor="x2",
                tickvals=buck_yticks, ticktext=[str(v) for v in buck_yticks], **axis_common),
    legend=dict(x=px(530), y=py(141), **legend_common),
    legend2=dict(x=px(1173), y=py(208), **legend_common),
    annotations=[
        dict(text="Hillenbrand et al. (monophthongs)", x=px(65), y=py(28), xref="paper", yref="paper",
             xanchor="left", yanchor="middle", showarrow=False, font=dict(family=FONT, size=30)),
        dict(text="Buckeye corpus (cardinal vowels)", x=px(711), y=py(28), xref="paper", yref="paper",
             xanchor="left", yanchor="middle", showarrow=False, font=dict(family=FONT, size=30)),
        dict(text="F2 (normalized)", x=px((66 + 497.7) / 2), y=py(480.5), xref="paper", yref="paper",
             xanchor="center", yanchor="middle", showarrow=False, font=dict(family=FONT, size=23)),
        dict(text="F2 (normalized)", x=px((711.7 + 1143.3) / 2), y=py(480.5), xref="paper", yref="paper",
             xanchor="center", yanchor="middle", showarrow=False, font=dict(family=FONT, size=23)),
        dict(text="F1 (normalized)", x=px(28), y=py(244), xref="paper", yref="paper", textangle=-90,
             xanchor="center", yanchor="middle", showarrow=False, font=dict(family=FONT, size=25)),
        dict(text="F1 (normalized)", x=px(673), y=py(244), xref="paper", yref="paper", textangle=-90,
             xanchor="center", yanchor="middle", showarrow=False, font=dict(family=FONT, size=25)),
        dict(text="Vowel", x=px(533), y=py(122), xref="paper", yref="paper",
             xanchor="left", yanchor="middle", showarrow=False, font=dict(family=FONT, size=24)),
        dict(text="Vowel", x=px(1177), y=py(188), xref="paper", yref="paper",
             xanchor="left", yanchor="middle", showarrow=False, font=dict(family=FONT, size=24)),
    ],
)

fig.write_html("out.html")
